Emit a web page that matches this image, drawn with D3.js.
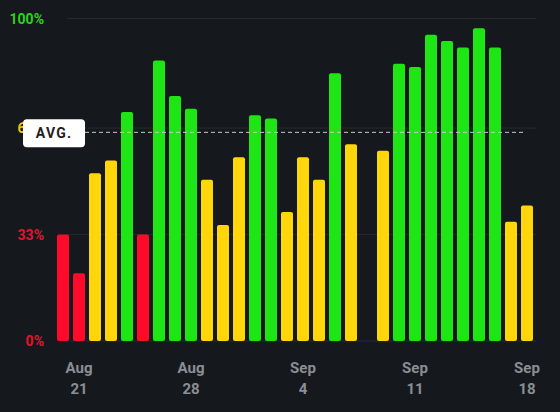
<!DOCTYPE html>
<html><head><meta charset="utf-8">
<script src="https://cdn.jsdelivr.net/npm/d3@7"></script>
<style>body{margin:0;background:#15191e}svg{display:block}</style>
</head><body><svg id="c" width="560" height="412"></svg>
<script>
const days = ["Aug 20","Aug 21","Aug 22","Aug 23","Aug 24","Aug 25","Aug 26","Aug 27","Aug 28","Aug 29","Aug 30","Aug 31","Sep 1","Sep 2","Sep 3","Sep 4","Sep 5","Sep 6","Sep 7","Sep 8","Sep 9","Sep 10","Sep 11","Sep 12","Sep 13","Sep 14","Sep 15","Sep 16","Sep 17","Sep 18"];
const values = [33,21,52,56,71,33,87,76,72,50,36,57,70,69,40,57,50,83,61,null,59,86,85,95,93,91,97,91,37,42];
const avg = 64.7;
const yTicks = [0,33,66,100];
const tickLabels = ["0%","33%","66%","100%"];
const xTickDays = ["Aug 21","Aug 28","Sep 4","Sep 11","Sep 18"];

const svg = d3.select("#c");
const x = d3.scaleBand().domain(days).range([55,535]).paddingInner(0.25).paddingOuter(0.125);
const y = d3.scaleLinear().domain([0,100]).range([341,18.5]);
const color = v => v < 34 ? "#ff0a2a" : v < 66 ? "#ffd60a" : "#1ee614";
const tickColor = t => t===0||t===33 ? "#e8112d" : t===66 ? "#f5c400" : "#2ed11f";

svg.append("g").selectAll("line").data(yTicks).join("line")
  .attr("x1",67).attr("x2",536).attr("y1",d=>y(d)).attr("y2",d=>y(d))
  .attr("stroke","#262a30").attr("stroke-width",1);

svg.append("g").selectAll("text").data(yTicks).join("text")
  .attr("x",44).attr("y",d=>y(d)+5).attr("text-anchor","end")
  .attr("font-family","Roboto, sans-serif").attr("font-weight","bold").attr("font-size",14)
  .attr("fill",tickColor).text((d,i)=>tickLabels[i]);

const data = days.map((d,i)=>({d,v:values[i]})).filter(e=>e.v!=null);
svg.append("g").selectAll("rect").data(data).join("rect")
  .attr("x",e=>x(e.d)).attr("width",x.bandwidth())
  .attr("y",e=>y(e.v)).attr("height",e=>y(0)-y(e.v))
  .attr("rx",2).attr("fill",e=>color(e.v));

svg.append("line").attr("x1",85).attr("x2",525).attr("y1",y(avg)).attr("y2",y(avg))
  .attr("stroke","#c8c8c8").attr("stroke-dasharray","4,3").attr("stroke-width",1);

svg.append("rect").attr("x",23).attr("y",y(avg)-13).attr("width",62).attr("height",28)
  .attr("rx",4).attr("fill","#ffffff");
svg.append("text").attr("x",54).attr("y",y(avg)+6).attr("text-anchor","middle")
  .attr("font-family","Roboto, sans-serif").attr("font-weight","bold").attr("font-size",14)
  .attr("letter-spacing",1.2).attr("fill","#222").text("AVG.");

const xl = svg.append("g").selectAll("g").data(xTickDays).join("g")
  .attr("transform",d=>`translate(${x(d)+x.bandwidth()/2},0)`);
xl.append("text").attr("y",373).attr("text-anchor","middle")
  .attr("font-family","Roboto, sans-serif").attr("font-weight","bold").attr("font-size",15)
  .attr("fill","#8b8e93").text(d=>d.split(" ")[0]);
xl.append("text").attr("y",394).attr("text-anchor","middle")
  .attr("font-family","Roboto, sans-serif").attr("font-weight","bold").attr("font-size",15)
  .attr("fill","#8b8e93").text(d=>d.split(" ")[1]);
</script></body></html>
